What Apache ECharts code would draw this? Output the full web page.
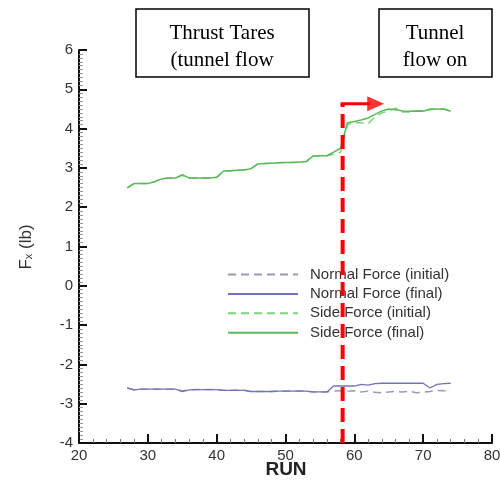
<!DOCTYPE html>
<html>
<head>
<meta charset="utf-8">
<script src="https://cdn.jsdelivr.net/npm/echarts@6/dist/echarts.min.js"></script>
<style>html,body{margin:0;padding:0;background:#fff}#c{width:500px;height:481px}</style>
</head>
<body>
<div id="c"></div>
<script>
const runs = [27,28,29,30,31,32,33,34,35,36,37,38,39,40,41,42,43,44,45,46,47,48,49,50,51,52,53,54,55,56,57,58,59,60,61,62,63,64,65,66,67,68,69,70,71,72,73,74];
const sideFinal = [2.49,2.60,2.60,2.60,2.65,2.72,2.74,2.74,2.83,2.74,2.74,2.74,2.74,2.76,2.92,2.93,2.94,2.95,2.98,3.10,3.11,3.12,3.13,3.14,3.14,3.15,3.16,3.30,3.31,3.31,3.40,3.50,4.15,4.18,4.22,4.27,4.36,4.45,4.50,4.48,4.45,4.44,4.45,4.44,4.50,4.50,4.50,4.44];
const sideInitial = [2.49,2.60,2.60,2.60,2.65,2.72,2.74,2.74,2.81,2.74,2.74,2.74,2.74,2.76,2.92,2.93,2.94,2.95,2.98,3.10,3.11,3.12,3.13,3.14,3.14,3.15,3.16,3.30,3.31,3.31,3.35,3.40,4.10,4.15,4.15,4.12,4.30,4.40,4.45,4.52,4.42,4.42,4.45,4.46,4.48,4.50,4.50,4.44];
const normalFinal = [-2.60,-2.65,-2.63,-2.63,-2.63,-2.63,-2.63,-2.63,-2.69,-2.65,-2.64,-2.64,-2.64,-2.64,-2.66,-2.66,-2.66,-2.66,-2.69,-2.69,-2.69,-2.69,-2.68,-2.68,-2.68,-2.68,-2.68,-2.70,-2.70,-2.70,-2.55,-2.55,-2.55,-2.55,-2.51,-2.53,-2.49,-2.48,-2.48,-2.48,-2.48,-2.48,-2.48,-2.48,-2.60,-2.51,-2.49,-2.48];
const normalInitial = [-2.60,-2.65,-2.63,-2.63,-2.63,-2.63,-2.63,-2.63,-2.67,-2.65,-2.64,-2.64,-2.64,-2.64,-2.66,-2.66,-2.66,-2.66,-2.69,-2.69,-2.69,-2.69,-2.68,-2.68,-2.68,-2.68,-2.68,-2.70,-2.70,-2.70,-2.68,-2.67,-2.68,-2.67,-2.70,-2.68,-2.71,-2.72,-2.70,-2.69,-2.70,-2.68,-2.72,-2.71,-2.69,-2.66,-2.67,-2.66];
const seriesNames = ['Normal Force (initial)','Normal Force (final)','Side Force (initial)','Side Force (final)'];
const flowOnRun = 58.3;
const arrowY = 4.63;
const arrowEndRun = 62.3;
const arrowHeadRun = 63.1;
const xTicks = [20,30,40,50,60,70,80];
const yTicks = [-4,-3,-2,-1,0,1,2,3,4,5,6];

const pair = (ys) => runs.map((r,i)=>[r, ys[i]]);
const chart = echarts.init(document.getElementById('c'));
const sans = 'Liberation Sans, Arial, Helvetica, sans-serif';
const serifFont = '21px "Liberation Serif", "Times New Roman", serif';
chart.setOption({
  animation: false,
  grid: {left: 79, right: 8, top: 50, bottom: 38, containLabel: false, outerBoundsMode: 'none'},
  xAxis: {
    type: 'value', min: xTicks[0], max: xTicks[xTicks.length-1], interval: 10,
    axisLine: {show: true, onZero: false, lineStyle: {color: '#111', width: 2}},
    axisTick: {show: true, inside: true, length: 9, lineStyle: {color: '#111', width: 2}},
    minorTick: {show: true, splitNumber: 5, length: 4, lineStyle: {color: '#777', width: 1}},
    splitLine: {show: false},
    axisLabel: {fontFamily: sans, fontSize: 15, color: '#333', margin: 5, hideOverlap: false}
  },
  yAxis: {
    type: 'value', min: yTicks[0], max: yTicks[yTicks.length-1], interval: 1,
    axisLine: {show: true, onZero: false, lineStyle: {color: '#111', width: 2}},
    axisTick: {show: true, inside: true, length: 8, lineStyle: {color: '#111', width: 2}},
    minorTick: {show: true, splitNumber: 10, length: 4, lineStyle: {color: '#999', width: 1}},
    splitLine: {show: false},
    axisLabel: {fontFamily: sans, fontSize: 15, color: '#333', margin: 6}
  },
  legend: {
    orient: 'vertical', left: 222, top: 262, itemWidth: 70, itemHeight: 12, itemGap: 4.4,
    data: seriesNames,
    itemStyle: {opacity: 0},
    textStyle: {fontFamily: sans, fontSize: 15, lineHeight: 14, color: '#333', padding: [0,0,0,7]}
  },
  graphic: [
    {type: 'rect', shape: {x: 136, y: 9, width: 173, height: 68}, style: {fill: '#fff', stroke: '#000', lineWidth: 1.5}},
    {type: 'text', x: 222, y: 47, style: {text: 'Thrust Tares\n(tunnel flow', font: serifFont, fill: '#000', align: 'center', verticalAlign: 'middle', lineHeight: 27}},
    {type: 'rect', shape: {x: 379, y: 9, width: 113, height: 68}, style: {fill: '#fff', stroke: '#000', lineWidth: 1.5}},
    {type: 'text', x: 435, y: 47, style: {text: 'Tunnel\nflow on', font: serifFont, fill: '#000', align: 'center', verticalAlign: 'middle', lineHeight: 27}},
    {type: 'text', x: 286, y: 470, style: {text: 'RUN', font: 'bold 19px "Liberation Sans", Arial, sans-serif', fill: '#222', align: 'center', verticalAlign: 'middle'}},
    {type: 'text', x: 26, y: 247, rotation: Math.PI/2, style: {text: '{f|F}{s|x}{f| (lb)}', align: 'center', verticalAlign: 'middle', fill: '#333',
      rich: {f: {fontFamily: sans, fontSize: 17, fill: '#333'}, s: {fontFamily: sans, fontSize: 11, fill: '#333', verticalAlign: 'bottom', padding: [6,0,0,0]}}}}
  ],
  series: [
    {name: seriesNames[0], type: 'line', data: pair(normalInitial), symbol: 'none', lineStyle: {color: '#9a9ab8', width: 1.5, type: [8,5]}, itemStyle: {color: '#9a9ab8'}},
    {name: seriesNames[1], type: 'line', data: pair(normalFinal), symbol: 'none', lineStyle: {color: '#7474b4', width: 1.3}, itemStyle: {color: '#7474b4'}},
    {name: seriesNames[2], type: 'line', data: pair(sideInitial), symbol: 'none', lineStyle: {color: '#7ad47a', width: 1.5, type: [8,5]}, itemStyle: {color: '#7ad47a'}},
    {name: seriesNames[3], type: 'line', data: pair(sideFinal), symbol: 'none', lineStyle: {color: '#5cb85c', width: 1.5}, itemStyle: {color: '#5cb85c'}},
    {type: 'line', data: [[flowOnRun, yTicks[0]], [flowOnRun, arrowY]], symbol: 'none', lineStyle: {color: '#f00', width: 4, type: [14,7]}, z: 5},
    {type: 'line', data: [[flowOnRun - 0.3, arrowY], [arrowEndRun, arrowY]], symbol: 'none', lineStyle: {color: '#f00', width: 3}, z: 5},
    {type: 'scatter', data: [[arrowHeadRun, arrowY]], symbol: 'triangle', symbolRotate: -90, symbolSize: [15, 17], itemStyle: {color: '#f00'}, z: 5}
  ]
});
</script>
</body>
</html>
